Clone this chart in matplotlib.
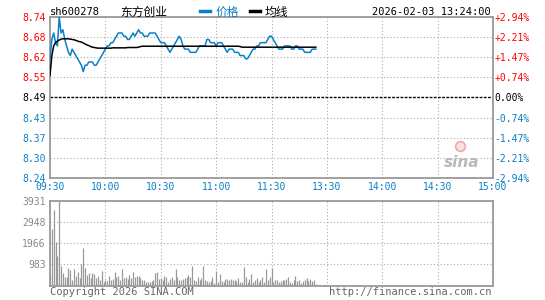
import matplotlib
matplotlib.use("Agg")
import matplotlib.pyplot as plt

# 东方创业 分时图 (sina 风格)
code = "sh600278"
name = "东方创业"
stamp = "2026-02-03 13:24:00"
prev_close = 8.49

price_ticks = [8.24, 8.30, 8.37, 8.43, 8.49, 8.55, 8.62, 8.68, 8.74]
pct_labels = ["-2.94%", "-2.21%", "-1.47%", "-0.74%", "0.00%",
              "+0.74%", "+1.47%", "+2.21%", "+2.94%"]
time_labels = ["09:30", "10:00", "10:30", "11:00", "11:30",
               "13:30", "14:00", "14:30", "15:00"]
vol_ticks = [983, 1966, 2948, 3931]

# 每分钟价格 (09:30 起)
price = [8.61, 8.67, 8.69, 8.66, 8.65, 8.74, 8.69, 8.70, 8.67, 8.65,
         8.63, 8.62, 8.64, 8.63, 8.62, 8.61, 8.60, 8.59, 8.57, 8.59,
         8.59, 8.60, 8.60, 8.60, 8.59, 8.59, 8.60, 8.61, 8.62, 8.63,
         8.64, 8.65, 8.65, 8.66, 8.66, 8.67, 8.68, 8.69, 8.69, 8.69,
         8.68, 8.68, 8.67, 8.67, 8.68, 8.69, 8.68, 8.69, 8.70, 8.69,
         8.69, 8.68, 8.68, 8.68, 8.69, 8.69, 8.69, 8.69, 8.68, 8.67,
         8.66, 8.66, 8.66, 8.65, 8.64, 8.63, 8.64, 8.65, 8.66, 8.67,
         8.68, 8.67, 8.65, 8.64, 8.64, 8.64, 8.63, 8.63, 8.63, 8.63,
         8.64, 8.65, 8.65, 8.65, 8.65, 8.67, 8.67, 8.66, 8.66, 8.66,
         8.65, 8.66, 8.66, 8.66, 8.65, 8.64, 8.63, 8.64, 8.64, 8.64,
         8.63, 8.63, 8.63, 8.62, 8.62, 8.62, 8.61, 8.61, 8.62, 8.63,
         8.64, 8.64, 8.65, 8.65, 8.66, 8.66, 8.66, 8.66, 8.67, 8.68,
         8.68, 8.67, 8.66, 8.65, 8.64, 8.64, 8.64, 8.65, 8.65, 8.65,
         8.65, 8.64, 8.64, 8.65, 8.65, 8.64, 8.64, 8.64, 8.63, 8.63,
         8.63, 8.63, 8.64, 8.64, 8.64]

# 均价线
avg = [8.558, 8.620, 8.650, 8.660, 8.665, 8.668, 8.671, 8.672, 8.672, 8.672,
       8.672, 8.671, 8.670, 8.669, 8.667, 8.665, 8.663, 8.662, 8.659, 8.656,
       8.653, 8.651, 8.648, 8.646, 8.645, 8.644, 8.643, 8.643, 8.643, 8.643,
       8.643, 8.643, 8.643, 8.643, 8.644, 8.644, 8.644, 8.644, 8.644, 8.644,
       8.644, 8.644, 8.645, 8.645, 8.645, 8.645, 8.645, 8.645, 8.646, 8.648,
       8.649, 8.649, 8.649, 8.649, 8.649, 8.649, 8.649, 8.649, 8.649, 8.649,
       8.649, 8.649, 8.649, 8.649, 8.649, 8.649, 8.649, 8.649, 8.649, 8.649,
       8.649, 8.649, 8.649, 8.649, 8.649, 8.649, 8.649, 8.649, 8.649, 8.649,
       8.649, 8.649, 8.649, 8.649, 8.649, 8.649, 8.649, 8.649, 8.649, 8.649,
       8.649, 8.649, 8.649, 8.649, 8.649, 8.649, 8.649, 8.649, 8.649, 8.649,
       8.649, 8.649, 8.649, 8.648, 8.646, 8.646, 8.646, 8.646, 8.646, 8.646,
       8.646, 8.646, 8.646, 8.646, 8.646, 8.646, 8.646, 8.646, 8.646, 8.646,
       8.646, 8.646, 8.646, 8.646, 8.646, 8.646, 8.646, 8.646, 8.646, 8.646,
       8.646, 8.646, 8.646, 8.646, 8.646, 8.646, 8.646, 8.646, 8.646, 8.646,
       8.646, 8.646, 8.646, 8.646, 8.646]

# 每分钟成交量
volume = [500, 2606, 3510, 2012, 1357, 3931, 889, 577, 390, 390,
          811, 733, 267, 764, 452, 640, 359, 1000, 1750, 811,
          499, 577, 343, 577, 546, 343, 452, 234, 670, 170,
          267, 200, 452, 234, 280, 640, 390, 452, 267, 764,
          343, 390, 280, 468, 343, 608, 390, 452, 452, 343,
          234, 267, 170, 140, 140, 187, 234, 577, 640, 280,
          343, 234, 421, 390, 170, 280, 390, 267, 764, 390,
          234, 267, 280, 359, 390, 499, 390, 904, 234, 187,
          390, 265, 343, 920, 265, 187, 140, 187, 390, 109,
          655, 140, 546, 187, 140, 296, 296, 234, 296, 234,
          265, 187, 343, 140, 140, 858, 390, 140, 296, 546,
          140, 234, 343, 140, 265, 390, 140, 764, 265, 390,
          811, 140, 234, 265, 140, 187, 234, 265, 296, 390,
          140, 109, 234, 452, 187, 234, 109, 187, 265, 343,
          187, 296, 187, 265, 78]

BLUE = "#0a7fc8"
RED = "#ff0000"
GRAY = "#999999"
MONO = "DejaVu Sans Mono"
CJK = ["Noto Sans CJK SC", "DejaVu Sans"]

W, H = 545, 300
fig = plt.figure(figsize=(W / 100, H / 100), dpi=100)
fig.patch.set_facecolor("white")


def fx(x):
    return x / W


def fy(y):
    return 1 - y / H


minutes = list(range(len(price)))
xticks = list(range(0, 241, 30))

ax = fig.add_axes([fx(50), fy(178), fx(443), 161 / H])
ax.plot(minutes, price, color=BLUE, lw=1.1, zorder=3)
ax.plot(minutes, avg, color="black", lw=1.1, zorder=3)
ax.set_xlim(0, 240)
ylo = prev_close * (1 - 0.0294)
yhi = prev_close * (1 + 0.0294)
ax.set_ylim(ylo, yhi)

tick_pos = [prev_close * (1 + k * 0.00735) for k in range(-4, 5)]
ax.set_yticks(tick_pos)
ax.set_yticklabels(["%.2f" % v for v in price_ticks])
ax.set_xticks(xticks)
ax.set_xticklabels(time_labels)
ax.tick_params(length=0, labelsize=7, pad=3)
for lab in ax.get_xticklabels():
    lab.set_color(BLUE)
    lab.set_family(MONO)
for lab, v in zip(ax.get_yticklabels(), tick_pos):
    lab.set_family(MONO)
    if v > prev_close + 1e-6:
        lab.set_color(RED)
    elif v < prev_close - 1e-6:
        lab.set_color(BLUE)
    else:
        lab.set_color("black")

for v in tick_pos:
    if abs(v - prev_close) < 1e-6:
        ax.axhline(v, color="black", lw=1, ls=(0, (2, 1)), zorder=2)
    else:
        ax.axhline(v, color="#aaaaaa", lw=0.8, ls=(0, (1, 2)), zorder=1)
for t in xticks[1:-1]:
    ax.axvline(t, color="#aaaaaa", lw=0.8, ls=(0, (1, 2)), zorder=1)
for s in ax.spines.values():
    s.set_color(GRAY)
    s.set_linewidth(1.3)

ax2 = ax.twinx()
ax2.set_ylim(ylo, yhi)
ax2.set_yticks(tick_pos)
ax2.set_yticklabels(pct_labels)
ax2.tick_params(length=0, labelsize=7, pad=1)
for lab, v in zip(ax2.get_yticklabels(), tick_pos):
    lab.set_family(MONO)
    if v > prev_close + 1e-6:
        lab.set_color(RED)
    elif v < prev_close - 1e-6:
        lab.set_color(BLUE)
    else:
        lab.set_color("black")
for s in ax2.spines.values():
    s.set_visible(False)

# sina 水印
ax.text(0.97, 0.05, "sina", transform=ax.transAxes, ha="right", va="bottom",
        fontsize=11, fontstyle="italic", fontweight="bold", color="#b8b8b8",
        zorder=2)
ax.plot([0.925], [0.2], "o", transform=ax.transAxes, ms=7, mfc="#fbe0e0",
        mec="#f0a8a8", mew=1.2, zorder=2)

# 成交量
axv = fig.add_axes([fx(50), fy(285.5), fx(443), 84.5 / H])
axv.vlines(minutes, 0, volume, color=GRAY, lw=0.9)
axv.set_xlim(0, 240)
axv.set_ylim(0, max(vol_ticks))
axv.set_yticks(vol_ticks)
axv.set_yticklabels([str(v) for v in vol_ticks])
axv.set_xticks([])
axv.tick_params(length=0, labelsize=7, pad=3, labelcolor="#888888")
for lab in axv.get_yticklabels():
    lab.set_family(MONO)
for v in vol_ticks[:-1]:
    axv.axhline(v, color="#aaaaaa", lw=0.8, ls=(0, (1, 2)), zorder=0)
for t in xticks[1:-1]:
    axv.axvline(t, color="#aaaaaa", lw=0.8, ls=(0, (1, 2)), zorder=0)
for s in axv.spines.values():
    s.set_color(GRAY)
    s.set_linewidth(1.3)

# 顶部标题与图例
fig.text(fx(50), fy(12), code, fontsize=7.5, family=MONO, va="center", ha="left")
fig.text(fx(120), fy(12), name, fontsize=8.5, family=CJK, va="center", ha="left")
fig.add_artist(plt.Line2D([fx(200), fx(210)], [fy(11), fy(11)], color=BLUE, lw=2.5))
fig.text(fx(216), fy(12), "价格", fontsize=8.5, family=CJK, color=BLUE, va="center")
fig.add_artist(plt.Line2D([fx(250), fx(260)], [fy(11), fy(11)], color="black", lw=2.5))
fig.text(fx(265), fy(12), "均线", fontsize=8.5, family=CJK, color="black", va="center")
fig.text(fx(491), fy(12), stamp, fontsize=7.5, family=MONO, va="center", ha="right")

# 底部版权
fig.text(fx(50), fy(292), "Copyright 2026 SINA.COM", fontsize=7.5, family=MONO,
         color="#666666", va="center", ha="left")
fig.text(fx(491), fy(292), "http://finance.sina.com.cn", fontsize=7.5, family=MONO,
         color="#666666", va="center", ha="right")

fig.savefig("out.png", dpi=100)
